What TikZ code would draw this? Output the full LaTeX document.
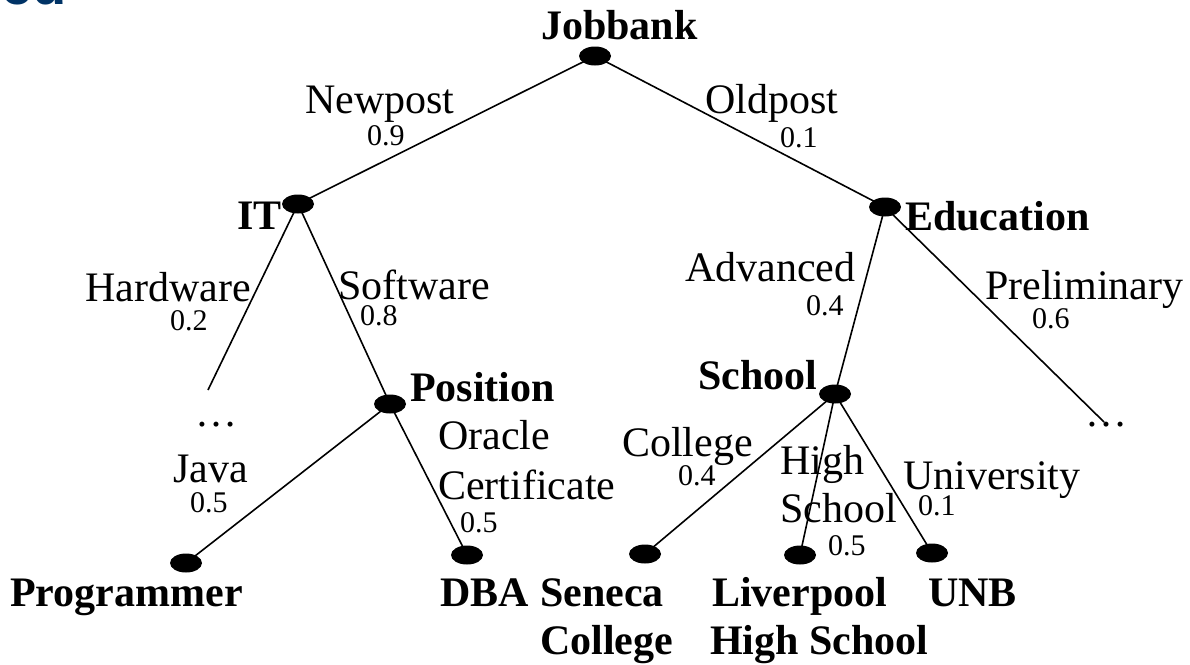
\documentclass[tikz,border=0pt]{standalone}
\usepackage{fontspec}
\usetikzlibrary{shapes.geometric}
\setmainfont{Liberation Serif}
\newfontfamily\titlefont{Liberation Sans}
\definecolor{titleblue}{RGB}{0,51,102}
\begin{document}
\begin{tikzpicture}[x=1pt,y=-1pt,
  dotnode/.style={ellipse,fill=black,minimum width=32pt,minimum height=19pt,inner sep=0pt},
  branch/.style={line width=1.6pt},
  nodename/.style={anchor=base west,inner sep=0pt,font=\fontsize{42}{50}\selectfont\bfseries},
  brlabel/.style={anchor=base west,inner sep=0pt,font=\fontsize{42}{50}\selectfont},
  problabel/.style={anchor=base west,inner sep=0pt,font=\fontsize{30}{36}\selectfont}]
\path[use as bounding box] (0,0) rectangle (1190,664);
\clip (0,0) rectangle (1190,664);
\fill[white] (0,0) rectangle (1190,664);

% slide title, cut by the top edge
\node[anchor=base west,inner sep=0pt,text=titleblue,font=\titlefont\fontsize{56}{64}\selectfont\bfseries] (title) at (1,4) {ed};

% branch points
\coordinate (cjob) at (595,56);
\coordinate (cit) at (298,204);
\coordinate (cedu) at (885,207);
\coordinate (cpos) at (390,404);
\coordinate (csch) at (835,394);
\coordinate (cprog) at (186,563);
\coordinate (cdba) at (467,555);
\coordinate (csen) at (645,554);
\coordinate (cliv) at (800,555);
\coordinate (cunb) at (932,553);
\coordinate (hwend) at (208,390);
\coordinate (prend) at (1104,422);

% branches first, so the dots sit on top of them
\draw[branch] (cjob) -- (cit);
\draw[branch] (cjob) -- (cedu);
\draw[branch] (cit) -- (hwend);
\draw[branch] (cit) -- (cpos);
\draw[branch] (cedu) -- (csch);
\draw[branch] (cedu) -- (prend);
\draw[branch] (cpos) -- (cprog);
\draw[branch] (cpos) -- (cdba);
\draw[branch] (csch) -- (csen);
\draw[branch] (csch) -- (cliv);
\draw[branch] (csch) -- (cunb);

% tree nodes
\node[dotnode] (job) at (cjob) {};
\node[dotnode] (it) at (cit) {};
\node[dotnode] (edu) at (cedu) {};
\node[dotnode] (pos) at (cpos) {};
\node[dotnode] (sch) at (csch) {};
\node[dotnode] (prog) at (cprog) {};
\node[dotnode] (dba) at (cdba) {};
\node[dotnode] (sen) at (csen) {};
\node[dotnode] (liv) at (cliv) {};
\node[dotnode] (unb) at (cunb) {};

% node names
\node[nodename] (tjob) at (541,39) {Jobbank};
\node[nodename] (tit) at (237,229) {IT};
\node[nodename] (tedu) at (905,230) {Education};
\node[nodename] (tpos) at (410,401) {Position};
\node[nodename] (tsch) at (698,389) {School};
\node[nodename] (tprog) at (10,606) {Programmer};
\node[nodename] (tdba) at (440,606) {DBA};
\node[nodename] (tsen) at (540,606) {Seneca};
\node[nodename] (tsen2) at (540,654) {College};
\node[nodename] (tliv) at (712,606) {Liverpool};
\node[nodename] (tliv2) at (710,654) {High School};
\node[nodename] (tunb) at (928,606) {UNB};

% branch labels and probabilities
\node[brlabel] (lnew) at (305,113) {Newpost};
\node[problabel] (pnew) at (367,145) {0.9};
\node[brlabel] (lold) at (705,113) {Oldpost};
\node[problabel] (pold) at (780,147) {0.1};
\node[brlabel] (lhw) at (85,301) {Hardware};
\node[problabel] (phw) at (170,330) {0.2};
\node[brlabel] (lsw) at (338,299) {Software};
\node[problabel] (psw) at (360,325) {0.8};
\node[brlabel] (ladv) at (685,281) {Advanced};
\node[problabel] (padv) at (806,315) {0.4};
\node[brlabel] (lpre) at (985,299) {Preliminary};
\node[problabel] (ppre) at (1032,328) {0.6};
\node[brlabel] (ldots1) at (195,426) {\dots};
\node[brlabel] (ldots2) at (1085,426) {\dots};
\node[brlabel] (lora) at (438,449) {Oracle};
\node[brlabel] (lcert) at (438,499) {Certificate};
\node[problabel] (pora) at (460,532) {0.5};
\node[brlabel] (ljava) at (173,482) {Java};
\node[problabel] (pjava) at (190,512) {0.5};
\node[brlabel] (lcol) at (622,456) {College};
\node[problabel] (pcol) at (678,485) {0.4};
\node[brlabel] (lhigh) at (780,474) {High};
\node[brlabel] (lhigh2) at (780,522) {School};
\node[problabel] (phigh) at (828,555) {0.5};
\node[brlabel] (luni) at (903,489) {University};
\node[problabel] (puni) at (918,515) {0.1};
\end{tikzpicture}
\end{document}
